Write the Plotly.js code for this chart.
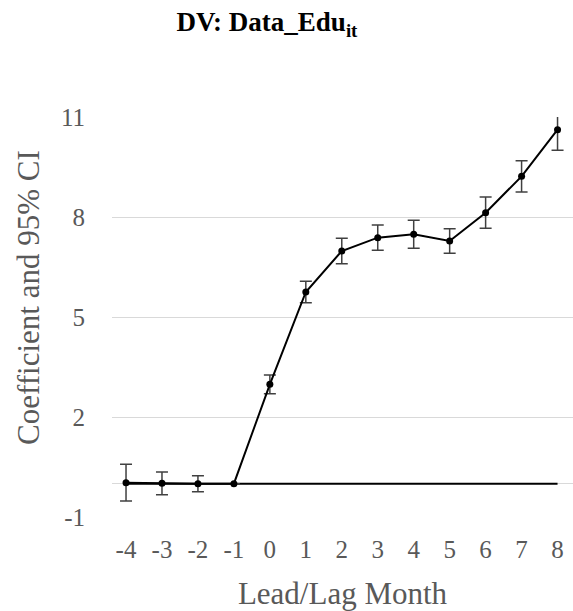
<!DOCTYPE html>
<html>
<head>
<meta charset="utf-8">
<script src="https://cdn.plot.ly/plotly-3.0.1.min.js"></script>
<style>html,body{margin:0;padding:0;background:#fff;}#chart{width:573px;height:611px;}</style>
</head>
<body>
<div id="chart"></div>
<script>
const months = [-4, -3, -2, -1, 0, 1, 2, 3, 4, 5, 6, 7, 8];
const coefficients = [0.03, 0.01, 0.0, 0.0, 2.98, 5.75, 6.98, 7.38, 7.48, 7.28, 8.13, 9.22, 10.62];
const ciHalfWidth = [0.55, 0.34, 0.24, 0, 0.28, 0.32, 0.38, 0.38, 0.42, 0.37, 0.47, 0.47, 0.62];
const zeroLine = [0, 0, 0, 0, 0, 0, 0, 0, 0, 0, 0, 0, 0];
const yTicks = [-1, 2, 5, 8, 11];

const serif = "Liberation Serif";
const grey = "#595959";

const traces = [
  {
    x: months, y: zeroLine, type: "scatter", mode: "lines",
    line: {color: "#000000", width: 2}, hoverinfo: "skip", showlegend: false
  },
  {
    x: months, y: coefficients, type: "scatter", mode: "lines+markers",
    line: {color: "#000000", width: 2},
    marker: {color: "#000000", size: 7},
    error_y: {type: "data", array: ciHalfWidth, visible: true, color: "#404040", thickness: 1.5, width: 6},
    cliponaxis: false, showlegend: false
  }
];

const layout = {
  width: 573, height: 611,
  margin: {l: 112, r: 0, t: 117, b: 94},
  paper_bgcolor: "#ffffff", plot_bgcolor: "#ffffff",
  font: {family: serif, color: grey},
  title: {
    text: "<b>DV: Data_Edu<sub>it</sub></b>",
    font: {family: serif, size: 27, color: "#000000"},
    x: 267 / 573, xanchor: "center", xref: "container",
    y: 1 - 22 / 611, yref: "container", yanchor: "middle"
  },
  xaxis: {
    range: [-4.39, 8.43],
    tickmode: "array", tickvals: months, ticktext: months.map(String),
    showgrid: false, zeroline: false, showline: false,
    ticks: "", ticklabelstandoff: 15,
    tickfont: {family: serif, size: 25, color: grey},
    title: {text: "Lead/Lag Month", font: {family: serif, size: 31, color: grey}, standoff: 20},
    automargin: false
  },
  yaxis: {
    range: [-1, 11],
    tickmode: "array", tickvals: yTicks, ticktext: yTicks.map(String),
    showgrid: true, gridcolor: "#d9d9d9", gridwidth: 1,
    zeroline: true, zerolinecolor: "#d9d9d9", zerolinewidth: 1,
    showline: false, ticks: "", ticklabelstandoff: 26,
    tickfont: {family: serif, size: 25, color: grey},
    automargin: false
  },
  annotations: [
    {
      text: "Coefficient and 95% CI", textangle: -90,
      xref: "paper", yref: "paper", x: 0, y: (517 - 298) / 400,
      xanchor: "center", yanchor: "middle", xshift: 28 - 112,
      showarrow: false, font: {family: serif, size: 31, color: grey}
    }
  ]
};

Plotly.newPlot("chart", traces, layout, {displayModeBar: false, staticPlot: true});
</script>
</body>
</html>
